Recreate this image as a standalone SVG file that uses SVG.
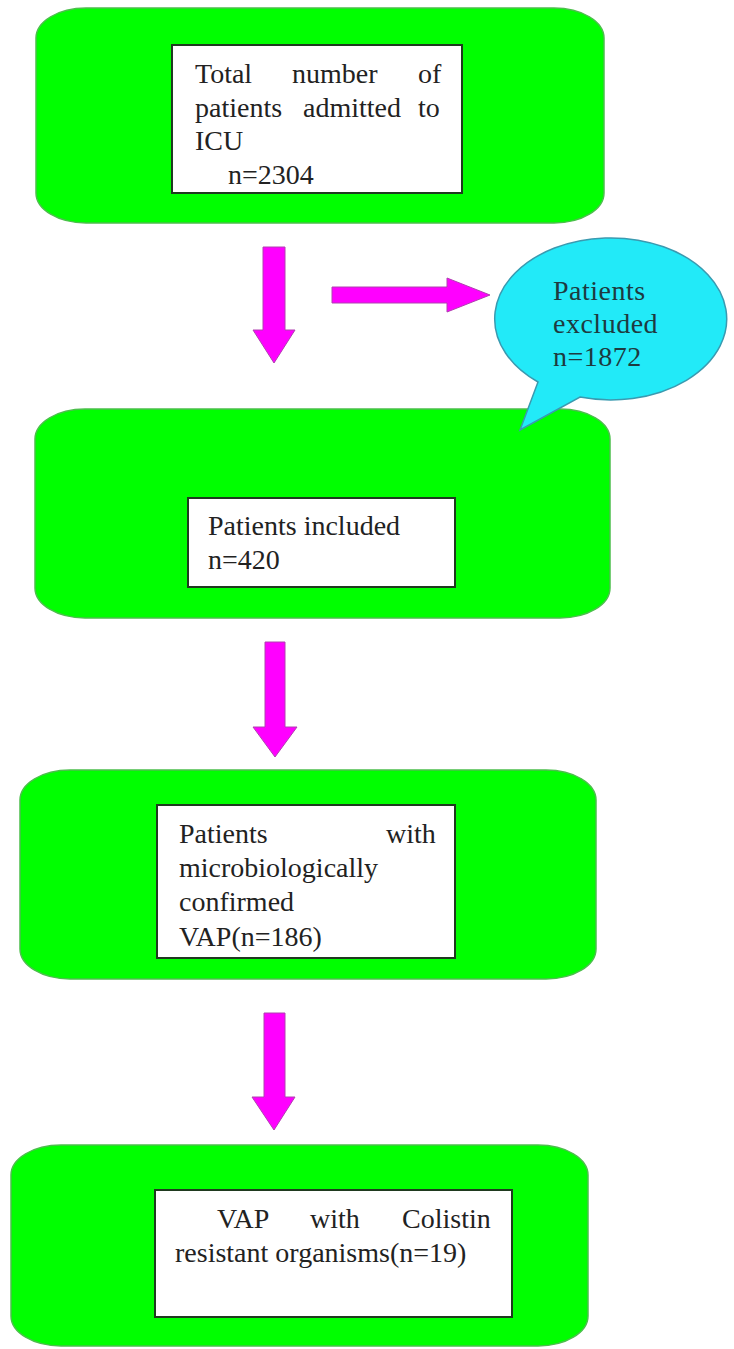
<svg xmlns="http://www.w3.org/2000/svg" width="734" height="1349" viewBox="0 0 734 1349">
<style>
.stage{fill:#00ff00;stroke:#4cbf4c;stroke-width:1.5}
.inner{fill:#ffffff;stroke:#1f3a1f;stroke-width:2}
.t{font-family:'Liberation Serif','DejaVu Serif',serif;font-size:28px;fill:#222222}
.arrow{fill:#ff00ff;stroke:#b040b0;stroke-width:1}
.bubble{fill:#22eaf8;stroke:#3a9ab0;stroke-width:1.5}
.bt{font-family:'Liberation Serif','DejaVu Serif',serif;font-size:28px;fill:#1e3a40;letter-spacing:0.5px}
</style>
<rect width="734" height="1349" fill="#ffffff"/>
<g id="node-total">
<rect class="stage" x="36" y="8" width="568" height="215" rx="50" ry="30"/>
<rect class="inner" x="172" y="45" width="290" height="148"/>
<text class="t" font-family="Liberation Serif, serif"><tspan x="195" y="83">Total</tspan><tspan x="292" y="83">number</tspan><tspan x="418" y="83">of</tspan><tspan x="195" y="117">patients</tspan><tspan x="303" y="117">admitted</tspan><tspan x="418" y="117">to</tspan><tspan x="195" y="150">ICU</tspan><tspan x="228" y="184">n=2304</tspan></text>
</g>
<g id="node-included">
<rect class="stage" x="35" y="409" width="575" height="209" rx="50" ry="30"/>
<rect class="inner" x="188" y="498" width="267" height="89"/>
<text class="t" font-family="Liberation Serif, serif"><tspan x="208" y="535">Patients included</tspan><tspan x="208" y="569">n=420</tspan></text>
</g>
<g id="node-vap">
<rect class="stage" x="20" y="770" width="576" height="209" rx="50" ry="30"/>
<rect class="inner" x="157" y="805" width="298" height="153"/>
<text class="t" font-family="Liberation Serif, serif"><tspan x="179" y="843">Patients</tspan><tspan x="386" y="843">with</tspan><tspan x="179" y="877">microbiologically</tspan><tspan x="179" y="911">confirmed</tspan><tspan x="179" y="946">VAP(n=186)</tspan></text>
</g>
<g id="node-colistin">
<rect class="stage" x="11" y="1145" width="577" height="201" rx="50" ry="30"/>
<rect class="inner" x="155" y="1190" width="357" height="127"/>
<text class="t" font-family="Liberation Serif, serif"><tspan x="217" y="1228">VAP</tspan><tspan x="310" y="1228">with</tspan><tspan x="402" y="1228">Colistin</tspan><tspan x="175" y="1262">resistant organisms(n=19)</tspan></text>
</g>
<g id="connectors">
<polygon class="arrow" points="263,247 285,247 285,330 295,330 274,363 253,330 263,330"/>
<polygon class="arrow" points="332,287 447,287 447,278 490,295 447,312 447,303 332,303"/>
<polygon class="arrow" points="265,642 285,642 285,727 297,727 275,757 253,727 265,727"/>
<polygon class="arrow" points="264,1013 285,1013 285,1097 295,1097 274,1130 252,1097 264,1097"/>
</g>
<g id="node-excluded">
<path class="bubble" d="M538,382 L520,430 L580,397 A116,81 0 1 0 538,382 Z"/>
<text class="bt" font-family="Liberation Serif, serif"><tspan x="553" y="300">Patients</tspan><tspan x="553" y="333">excluded</tspan><tspan x="553" y="366">n=1872</tspan></text>
</g>
</svg>
